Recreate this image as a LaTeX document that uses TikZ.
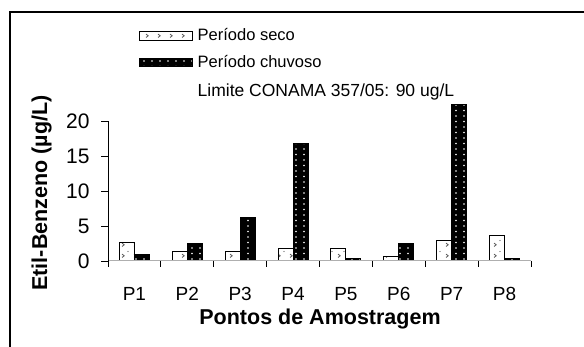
\documentclass[tikz,border=0pt]{standalone}
\usepackage{fontspec}
\setmainfont{Liberation Sans}
\usetikzlibrary{positioning,patterns}
\definecolor{axisgray}{RGB}{175,175,175}
\definecolor{markgray}{RGB}{90,90,90}

% white dots on the rainy bars
\pgfdeclarepatternformonly{raindots}{\pgfqpoint{-1pt}{-1pt}}{\pgfqpoint{1pt}{1pt}}{\pgfqpoint{8pt}{5.5pt}}{%
  \pgfpathcircle{\pgfpointorigin}{0.9pt}\pgfusepath{fill}}
% sparse marks on the dry bars
\pgfdeclarepatternformonly{drymarks}{\pgfqpoint{-1pt}{-1pt}}{\pgfqpoint{11pt}{10pt}}{\pgfqpoint{12pt}{11pt}}{%
  \pgfsetlinewidth{0.8pt}%
  \pgfpathmoveto{\pgfqpoint{2pt}{1.5pt}}\pgfpathlineto{\pgfqpoint{4.2pt}{3.2pt}}\pgfpathlineto{\pgfqpoint{2pt}{4.9pt}}\pgfusepath{stroke}%
  \pgfpathcircle{\pgfqpoint{8pt}{7.5pt}}{0.7pt}\pgfusepath{fill}}

\begin{document}
\begin{tikzpicture}[x=1pt,y=1pt,
    every node/.style={inner sep=0pt},
    secobar/.style={draw=black,line width=1pt,preaction={fill=white},pattern=drymarks,pattern color=markgray},
    chuvbar/.style={draw=black,line width=1pt,preaction={fill=black},pattern=raindots,pattern color=white},
    ticklab/.style={font=\fontsize{21}{24}\selectfont},
    xlab/.style={font=\fontsize{19}{22}\selectfont},
    axtitle/.style={font=\fontsize{21.5}{24}\selectfont\bfseries},
    legtext/.style={font=\fontsize{16.5}{19}\selectfont},
    limtext/.style={font=\fontsize{17.5}{20}\selectfont}
  ]
  \useasboundingbox (0,0) rectangle (584,347);

  % the frame
  \draw[line width=2pt] (10,0) -- (10,335) -- (584,335);

  % the bars of both periods
  \foreach \i/\s/\c in {1/2.7/0.9, 2/1.4/2.5, 3/1.4/6.2, 4/1.8/16.8,
                        5/1.8/0.3, 6/0.6/2.5, 7/2.9/22.3, 8/3.7/0.3} {
    \pgfmathsetmacro{\cx}{108+52.875*(\i-0.5)}
    \draw[secobar] ({\cx-15},86) rectangle (\cx,{86+7*\s});
    \draw[chuvbar] (\cx,86) rectangle ({\cx+15},{86+7*\c});
    \node[xlab] (p\i) at (\cx,53) {P\i};
  }

  % the axes
  \draw[axisgray,line width=1pt] (108,86) -- (531,86);
  \foreach \k in {0,...,8}
    \draw[line width=0.8pt] ({108+52.875*\k},86) -- ++(0,-6);
  \draw[line width=0.8pt] (108,86) -- (108,226);
  \foreach \v in {0,5,...,20}
    \draw[line width=0.8pt] (108,{86+7*\v}) -- ++(-7,0) node[ticklab,left=11pt] (y\v) {\v};

  % the axis titles
  \node[axtitle,anchor=base] (xtitle) at (320,22) {Pontos de Amostragem};
  \node[axtitle,anchor=base,rotate=90] (ytitle) at (47,154) {Etil-Benzeno (µg/L)};

  % the legend
  \node[secobar,minimum width=53pt,minimum height=8.5pt] (swseco) at (165.5,311) {};
  \node[chuvbar,minimum width=53pt,minimum height=8.5pt] (swchuv) at (165.5,284.5) {};
  \node[legtext,anchor=base west] (txseco) at ([xshift=5pt]swseco.south east) {Período seco};
  \node[legtext,anchor=base west] (txchuv) at ([xshift=5pt]swchuv.south east) {Período chuvoso};
  \node[limtext,anchor=base west] (limite) at ([yshift=-29.5pt]txchuv.base west) {Limite CONAMA 357/05: 90 ug/L};
\end{tikzpicture}
\end{document}
